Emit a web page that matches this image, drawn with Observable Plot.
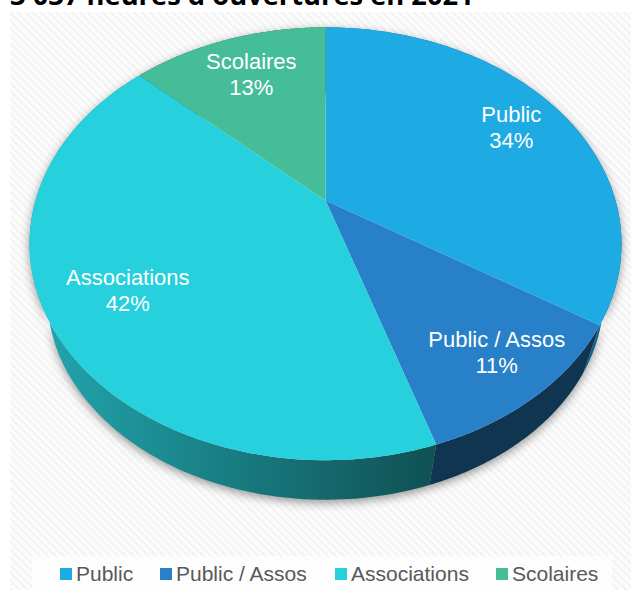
<!DOCTYPE html>
<html><head><meta charset="utf-8">
<script src="https://cdn.jsdelivr.net/npm/d3@7"></script>
<script src="https://cdn.jsdelivr.net/npm/@observablehq/plot@0.6"></script>
<style>
html,body{margin:0;padding:0;background:#fff;overflow:hidden}
#root{position:relative;width:631px;height:590px;overflow:hidden}
#panel{position:absolute;left:10px;top:12px;right:0;bottom:0;
 background:repeating-linear-gradient(45deg,#f4f4f4 0,#f4f4f4 2.5px,#fcfcfc 2.5px,#fcfcfc 5.5px)}
#title{position:absolute;left:10px;top:-24px;font:bold 27.3px "Open Sans",sans-serif;color:#000;white-space:nowrap}
#chart{position:absolute;left:0;top:0}
#legend{position:absolute;left:32px;top:556px;width:580px;height:34px;background:rgba(255,255,255,.75);
 font:21px "Liberation Sans Narrow","Liberation Sans",sans-serif;color:#595959}
#legend span{position:absolute;top:6px;white-space:nowrap}
#legend i{position:absolute;top:12px;width:12px;height:12px}
</style></head><body>
<div id="root"><div id="panel"></div><div id="title"></div><div id="chart"></div><div id="legend"></div></div>
<script>
const titleText = "3 037 heures d'ouvertures en 2021";
const categories = ["Public", "Public / Assos", "Associations", "Scolaires"];
const shares = [34, 11, 42, 13];
const colors = ["#1eaae3", "#2880c8", "#26d0dc", "#45bd98"];
const wallColors = ["#14638a", "#0f3550", "url(#wallAssoc)", "#1f6b55"];
const labelReach = [0.79, 0.815, 0.74, 0.74];
const labelShiftX = [-0.003, 0.017, -0.003, 0.003];
const labelShiftY = [-0.01, 0, -0.007, 0.004];
const legendX = [28, 128, 303, 464];

const tilt = 0.2, wallScale = 0.94, wallDrop = 0.265;
const total = d3.sum(shares);
const ends = d3.cumsum(shares);
const rad = s => s / total * 2 * Math.PI;
const top3d = (a, f = 1) => {
  const w = 1 + tilt * f * Math.cos(a);
  return [f * Math.sin(a) / w, f * Math.cos(a) / w];
};
const low3d = a => { const [x, y] = top3d(a); return [x * wallScale, y * wallScale - wallDrop]; };

const faces = [], walls = [], labels = [];
categories.forEach((cat, i) => {
  const a0 = rad(ends[i] - shares[i]), a1 = rad(ends[i]);
  const as = d3.range(0, 121).map(k => a0 + (a1 - a0) * k / 120);
  faces.push({cat, x: 0, y: 0});
  as.forEach(a => { const [x, y] = top3d(a); faces.push({cat, x, y}); });
  as.forEach(a => { const [x, y] = top3d(a); walls.push({cat, x, y}); });
  as.slice().reverse().forEach(a => { const [x, y] = low3d(a); walls.push({cat, x, y}); });
  const [lx, ly] = top3d((a0 + a1) / 2, labelReach[i]);
  labels.push({cat, x: lx + labelShiftX[i], y: ly + labelShiftY[i], text: cat + "\n" + shares[i] + "%"});
});

document.getElementById("title").textContent = titleText;

const gradient = () => {
  const d = d3.create("svg:defs");
  const g = d.append("linearGradient").attr("id", "wallAssoc").attr("gradientUnits", "userSpaceOnUse")
    .attr("x1", 40).attr("x2", 440).attr("y1", 0).attr("y2", 0);
  g.append("stop").attr("offset", 0).attr("stop-color", "#21a6ad");
  g.append("stop").attr("offset", 1).attr("stop-color", "#0f4f52");
  return d.node();
};

const fillOf = d3.scaleOrdinal(categories, colors);
const wallOf = d3.scaleOrdinal(categories, wallColors);

const chart = Plot.plot({
  width: 631, height: 590, margin: 0,
  style: {background: "transparent", overflow: "visible"},
  x: {domain: [-1, 1], range: [35, 615], axis: null},
  y: {domain: [-1, 1], range: [407.8, -7.8], axis: null},
  marks: [
    gradient,
    Plot.line(walls, {x: "x", y: "y", z: "cat", fill: d => wallOf(d.cat), stroke: null,
      imageFilter: "drop-shadow(0 3px 5px rgba(0,0,0,.4))"}),
    Plot.line(faces, {x: "x", y: "y", z: "cat", fill: d => fillOf(d.cat), stroke: null}),
    Plot.text(labels, {x: "x", y: "y", dy: -2, text: "text", fill: "white", fontSize: 22, lineHeight: 1.18,
      fontFamily: "Liberation Sans, sans-serif"})
  ]
});
document.getElementById("chart").append(chart);

const legend = d3.select("#legend");
categories.forEach((c, i) => {
  legend.append("i").style("left", legendX[i] + "px").style("background", colors[i]);
  legend.append("span").style("left", (legendX[i] + 16) + "px").text(c);
});
</script></body></html>
